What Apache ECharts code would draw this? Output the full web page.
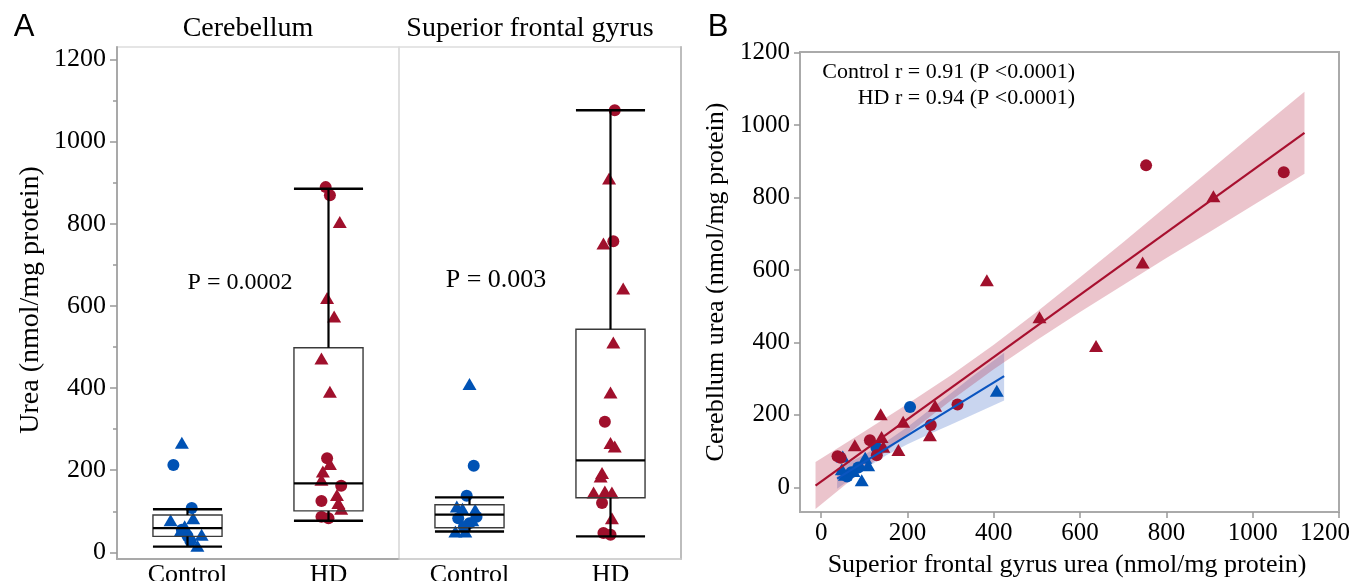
<!DOCTYPE html>
<html>
<head>
<meta charset="utf-8">
<script src="https://cdn.jsdelivr.net/npm/echarts@6/dist/echarts.min.js"></script>
<style>
  html, body { margin: 0; padding: 0; background: #fff; }
  #chart { width: 1350px; height: 581px; }
</style>
</head>
<body>
<div id="chart"></div>
<script>
var groups = ['Control', 'HD'];
var yTicks = [0, 200, 400, 600, 800, 1000, 1200];
var yMinorTicks = [100, 300, 500, 700, 900, 1100];
var xTicksB = [0, 200, 400, 600, 800, 1000, 1200];

// panel A points: [jitter from group centre, urea]
var cerCtrlCircles = [[-0.10, 213], [0.03, 108], [-0.04, 55], [0.00, 40], [0.02, 28]];
var cerCtrlTriangles = [[-0.04, 267], [-0.12, 78], [0.04, 83], [-0.02, 64], [-0.05, 52], [0.10, 43], [0.07, 16]];
var cerHdCircles = [[-0.02, 889], [0.01, 869], [-0.01, 229], [0.09, 162], [-0.05, 125], [-0.05, 87], [0.00, 83]];
var cerHdTriangles = [[0.08, 804], [-0.01, 619], [0.04, 574], [-0.05, 472], [0.01, 391], [0.01, 215], [-0.04, 197], [-0.05, 177], [0.06, 140], [0.07, 120], [0.09, 106]];

var sfgCtrlCircles = [[0.03, 211], [-0.02, 138], [-0.08, 83], [0.05, 87], [0.00, 71], [-0.04, 62]];
var sfgCtrlTriangles = [[0.00, 410], [-0.09, 112], [0.04, 104], [-0.05, 106], [-0.10, 51], [-0.03, 51], [0.02, 78]];
var sfgHdCircles = [[0.03, 1076], [0.02, 757], [-0.04, 318], [-0.06, 120], [-0.05, 47], [0.00, 43]];
var sfgHdTriangles = [[-0.01, 910], [-0.05, 752], [0.09, 642], [0.02, 511], [0.00, 389], [0.00, 266], [0.03, 258], [-0.06, 193], [-0.07, 185], [-0.12, 146], [-0.04, 148], [0.01, 146], [0.01, 83]];

// [group, low whisker, q1, median, q3, high whisker]
var cerBoxes = [[0, 14, 39, 59, 91, 105], [1, 77, 101, 168, 498, 885]];
var sfgBoxes = [[0, 51, 60, 92, 116, 134], [1, 39, 133, 224, 543, 1076]];

// panel B points: [superior frontal gyrus, cerebellum]
var ctrlCircles = [[206, 222], [128, 110], [86, 55], [70, 42], [60, 30]];
var ctrlTriangles = [[407, 267], [109, 61], [94, 20], [50, 85], [102, 82], [55, 35], [48, 50], [75, 45]];
var hdCircles = [[753, 889], [1072, 870], [316, 229], [254, 172], [113, 130], [129, 89], [38, 86], [45, 82]];
var hdTriangles = [[909, 804], [745, 621], [384, 572], [506, 470], [637, 390], [264, 225], [138, 202], [190, 181], [252, 144], [140, 139], [144, 112], [78, 116], [179, 103]];

// fit lines and confidence bands
var hdFitX = [-13, 1120];
var hdFitY = [5, 979];
var ctrlFitX = [37, 424];
var ctrlFitY = [24, 307];
var hdBandX = [-13, 100, 200, 300, 400, 500, 600, 700, 800, 900, 1000, 1120];
var hdBandUp = [70, 154, 230, 309, 394, 485, 580, 677, 776, 875, 974, 1092];
var hdBandLo = [-60, 50, 147, 239, 326, 407, 484, 559, 633, 705, 778, 866];
var ctrlBandX = [37, 100, 150, 200, 250, 300, 350, 424];
var ctrlBandUp = [52, 90, 126, 167, 213, 259, 306, 372];
var ctrlBandLo = [-4, 50, 88, 119, 147, 173, 200, 240];

var RED = '#a0102c';
var BLUE = '#0052b4';
var SERIF = 'Liberation Serif';

function jit(list, idx) {
  return list.map(function (d) { return [idx + d[0], d[1]]; });
}

function plain(v) { return String(v); }

// last x label on panel B sits a bit left of its tick, like the original
function xLabelB(v) {
  return v === 1200 ? '{last|1200}' : String(v);
}

function scatter(data, shape, color, xi, yi) {
  return {
    type: 'scatter', xAxisIndex: xi, yAxisIndex: yi, data: data,
    symbol: shape, symbolSize: shape === 'circle' ? 12 : [14, 12],
    itemStyle: { color: color, opacity: 1 }, silent: true
  };
}

function boxItem(params, api) {
  var x = api.value(0);
  var half = api.size([0.49, 0])[0] / 2;
  var lo = api.coord([x, api.value(1)]);
  var q1 = api.coord([x, api.value(2)]);
  var md = api.coord([x, api.value(3)]);
  var q3 = api.coord([x, api.value(4)]);
  var hi = api.coord([x, api.value(5)]);
  var cx = lo[0];
  function seg(x1, y1, x2, y2, w) {
    return { type: 'line', shape: { x1: x1, y1: y1, x2: x2, y2: y2 }, style: { stroke: '#000', lineWidth: w } };
  }
  return {
    type: 'group',
    children: [
      { type: 'rect', shape: { x: cx - half, y: q3[1], width: half * 2, height: q1[1] - q3[1] },
        style: { fill: 'none', stroke: '#3a3a3a', lineWidth: 1.4 } },
      seg(cx - half, md[1], cx + half, md[1], 2.2),
      seg(cx, hi[1], cx, q3[1], 2.2),
      seg(cx, q1[1], cx, lo[1], 2.2),
      seg(cx - half, hi[1], cx + half, hi[1], 2.4),
      seg(cx - half, lo[1], cx + half, lo[1], 2.4)
    ]
  };
}

function bandItem(xs, up, lo, color) {
  return function (params, api) {
    var p = [];
    for (var i = 0; i < xs.length; i++) p.push(api.coord([xs[i], up[i]]));
    for (var j = xs.length - 1; j >= 0; j--) p.push(api.coord([xs[j], lo[j]]));
    return { type: 'polygon', shape: { points: p }, style: { fill: color } };
  };
}

function catAxis(gi, lineColor, lineWidth) {
  return {
    type: 'value', gridIndex: gi, min: -0.5, max: 1.5,
    splitLine: { show: false },
    axisLine: { show: true, onZero: false, lineStyle: { color: lineColor, width: lineWidth } },
    axisTick: { show: false },
    axisLabel: {
      customValues: [0, 1], margin: 3,
      formatter: function (v) { return groups[Math.round(v)]; },
      color: '#000', fontFamily: SERIF, fontSize: 26
    }
  };
}

function txt(text, x, y, size, align, extra) {
  var el = {
    type: 'text', x: x, y: y, silent: true,
    style: { text: text, fill: '#000', font: size + 'px "' + SERIF + '"', textAlign: align || 'center', textVerticalAlign: 'middle' }
  };
  for (var k in extra) el[k] = extra[k];
  return el;
}

var chartDom = document.getElementById('chart');
var myChart = echarts.init(chartDom);
var option;

option = {
  animation: false,
  backgroundColor: '#fff',
  grid: [
    { left: 117, top: 47, width: 282, height: 512, show: true, borderColor: '#dddddd', borderWidth: 1.5, outerBoundsMode: 'none', containLabel: false },
    { left: 399, top: 47, width: 282, height: 512, show: true, borderColor: '#dddddd', borderWidth: 1.5, outerBoundsMode: 'none', containLabel: false },
    { left: 800, top: 52, width: 539, height: 460, show: true, borderColor: '#aaaaaa', borderWidth: 2, outerBoundsMode: 'none', containLabel: false }
  ],
  xAxis: [
    catAxis(0, '#a9a9a9', 2),
    catAxis(1, '#cccccc', 1.5),
    {
      type: 'value', gridIndex: 2, min: -49, max: 1200,
      splitLine: { show: false },
      axisLine: { show: true, onZero: false, lineStyle: { color: '#aaaaaa', width: 2 } },
      axisTick: { show: true, customValues: xTicksB, length: 6, lineStyle: { color: '#999', width: 1.5 } },
      axisLabel: {
        customValues: xTicksB, formatter: xLabelB, margin: 9, color: '#000', fontFamily: SERIF, fontSize: 25,
        rich: { last: { fontFamily: SERIF, fontSize: 25, color: '#000', padding: [0, 28, 0, 0] } }
      }
    }
  ],
  yAxis: [
    {
      type: 'value', gridIndex: 0, position: 'left', min: -16, max: 1230,
      splitLine: { show: false },
      axisLine: { show: true, onZero: false, lineStyle: { color: '#a9a9a9', width: 2 } },
      axisTick: { show: true, customValues: yTicks, length: 7, lineStyle: { color: '#999', width: 1.5 } },
      axisLabel: { customValues: yTicks, formatter: plain, margin: 11, color: '#000', fontFamily: SERIF, fontSize: 26 }
    },
    {
      type: 'value', gridIndex: 0, position: 'left', min: -16, max: 1230,
      splitLine: { show: false },
      axisLine: { show: false, onZero: false },
      axisTick: { show: true, customValues: yMinorTicks, length: 4, lineStyle: { color: '#999', width: 1.5 } },
      axisLabel: { show: false }
    },
    {
      type: 'value', gridIndex: 1, position: 'right', min: -16, max: 1230,
      splitLine: { show: false },
      axisLine: { show: true, onZero: false, lineStyle: { color: '#bdbdbd', width: 2 } },
      axisTick: { show: false },
      axisLabel: { show: false }
    },
    {
      type: 'value', gridIndex: 2, min: -68, max: 1202,
      splitLine: { show: false },
      axisLine: { show: true, onZero: false, lineStyle: { color: '#aaaaaa', width: 2 } },
      axisTick: { show: true, customValues: yTicks, length: 6, lineStyle: { color: '#999', width: 1.5 } },
      axisLabel: { customValues: yTicks, formatter: plain, margin: 10, color: '#000', fontFamily: SERIF, fontSize: 25 }
    }
  ],
  series: [
    // cerebellum
    scatter(jit(cerCtrlCircles, 0), 'circle', BLUE, 0, 0),
    scatter(jit(cerCtrlTriangles, 0), 'triangle', BLUE, 0, 0),
    scatter(jit(cerHdCircles, 1), 'circle', RED, 0, 0),
    scatter(jit(cerHdTriangles, 1), 'triangle', RED, 0, 0),
    { type: 'custom', xAxisIndex: 0, yAxisIndex: 0, data: cerBoxes, renderItem: boxItem, silent: true, z: 5 },
    // superior frontal gyrus
    scatter(jit(sfgCtrlCircles, 0), 'circle', BLUE, 1, 2),
    scatter(jit(sfgCtrlTriangles, 0), 'triangle', BLUE, 1, 2),
    scatter(jit(sfgHdCircles, 1), 'circle', RED, 1, 2),
    scatter(jit(sfgHdTriangles, 1), 'triangle', RED, 1, 2),
    { type: 'custom', xAxisIndex: 1, yAxisIndex: 2, data: sfgBoxes, renderItem: boxItem, silent: true, z: 5 },
    // correlation
    { type: 'custom', xAxisIndex: 2, yAxisIndex: 3, data: [[ctrlBandX[0], ctrlBandUp[0]]],
      renderItem: bandItem(ctrlBandX, ctrlBandUp, ctrlBandLo, 'rgba(30,80,190,0.24)'), silent: true, clip: true },
    { type: 'line', xAxisIndex: 2, yAxisIndex: 3, showSymbol: false, silent: true,
      data: ctrlFitX.map(function (x, i) { return [x, ctrlFitY[i]]; }),
      lineStyle: { color: '#0b55c0', width: 2.2 } },
    scatter(ctrlCircles, 'circle', BLUE, 2, 3),
    scatter(ctrlTriangles, 'triangle', BLUE, 2, 3),
    { type: 'custom', xAxisIndex: 2, yAxisIndex: 3, data: [[hdBandX[0], hdBandUp[0]]],
      renderItem: bandItem(hdBandX, hdBandUp, hdBandLo, 'rgba(180,36,66,0.27)'), silent: true, clip: true },
    { type: 'line', xAxisIndex: 2, yAxisIndex: 3, showSymbol: false, silent: true,
      data: hdFitX.map(function (x, i) { return [x, hdFitY[i]]; }),
      lineStyle: { color: '#a8102f', width: 2.2 } },
    scatter(hdCircles, 'circle', RED, 2, 3),
    scatter(hdTriangles, 'triangle', RED, 2, 3)
  ],
  graphic: [
    { type: 'text', x: 24, y: 27, silent: true,
      style: { text: 'A', fill: '#000', font: '31px "Liberation Sans"', textAlign: 'center', textVerticalAlign: 'middle' } },
    { type: 'text', x: 718, y: 27, silent: true,
      style: { text: 'B', fill: '#000', font: '31px "Liberation Sans"', textAlign: 'center', textVerticalAlign: 'middle' } },
    txt('Cerebellum', 248, 29, 28),
    txt('Superior frontal gyrus', 530, 29, 28),
    txt('P = 0.0002', 240, 283, 24),
    txt('P = 0.003', 496, 280, 26),
    txt('Urea (nmol/mg protein)', 31, 300, 28, 'center', { rotation: Math.PI / 2 }),
    txt('Control r = 0.91 (P <0.0001)', 1075, 72, 22, 'right'),
    txt('HD r = 0.94 (P <0.0001)', 1075, 98, 22, 'right'),
    txt('Cerebllum urea (nmol/mg protein)', 716, 282, 26, 'center', { rotation: Math.PI / 2 }),
    txt('Superior frontal gyrus urea (nmol/mg protein)', 1067, 565, 26)
  ]
};

option && myChart.setOption(option);
</script>
</body>
</html>
